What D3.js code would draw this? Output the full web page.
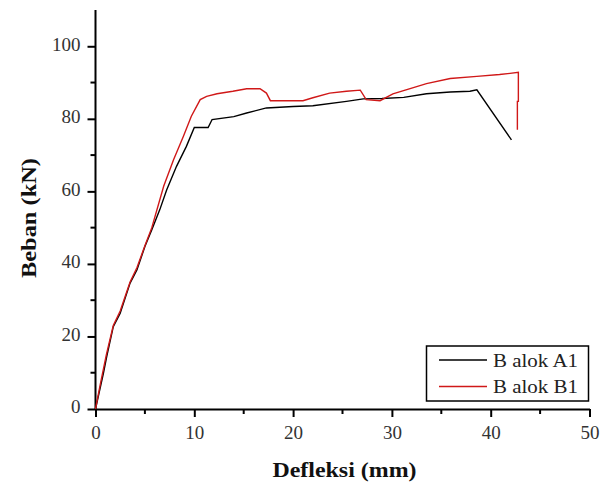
<!DOCTYPE html>
<html><head><meta charset="utf-8">
<script src="https://cdn.jsdelivr.net/npm/d3@7"></script>
<style>body{margin:0;background:#fff}svg{display:block}</style>
</head><body>
<svg id="c" width="603" height="483"></svg>
<script>
const xTicks = [0, 10, 20, 30, 40, 50];
const yTicks = [0, 20, 40, 60, 80, 100];
const seriesNames = ["B alok A1", "B alok B1"];
const seriesColors = ["#000000", "#d01818"];
const xA = [0, 0.8, 1.13, 1.8, 2.5, 3.5, 4.2, 5.0, 5.7, 6.5, 7.2, 8.2, 9.2, 10.0, 11.4, 11.8, 14.0, 15.3, 17.3, 20.0, 22.0, 25.4, 27.1, 29.0, 31.2, 33.5, 35.9, 37.9, 38.6, 42.1];
const yA = [0, 9.8, 14.4, 22.7, 26.4, 34.7, 38.4, 44.8, 49.4, 54.9, 60.4, 66.9, 72.4, 77.6, 77.6, 79.8, 80.6, 81.6, 83.0, 83.4, 83.6, 84.8, 85.5, 85.6, 85.9, 86.9, 87.4, 87.6, 88.0, 74.2];
const xB = [0, 0.5, 1.1, 1.8, 2.5, 3.5, 4.2, 5.0, 5.7, 6.9, 7.9, 8.9, 9.7, 10.6, 11.25, 12.3, 13.9, 15.3, 16.65, 17.3, 17.7, 21.0, 22.0, 23.7, 25.4, 26.8, 27.4, 28.8, 30.1, 33.5, 35.9, 38.6, 40.9, 42.8, 42.8, 42.7, 42.7];
const yB = [0, 7, 15, 23, 27, 35, 39, 45, 50, 61.4, 68.7, 75.2, 80.7, 85.3, 86.2, 86.9, 87.6, 88.3, 88.3, 87.1, 85.0, 85.0, 85.8, 87.1, 87.6, 87.9, 85.3, 85.0, 86.9, 89.7, 91.1, 91.7, 92.2, 92.8, 84.8, 84.8, 77.0];
const xLabel = "Defleksi (mm)";
const yLabel = "Beban (kN)";

const svg = d3.select("#c");
const L = 95.5, R = 589.5, T = 10, B = 409;
const x = d3.scaleLinear().domain([0, 50]).range([L, R]);
const y = d3.scaleLinear().domain([0, 110]).range([B, T]);
const font = "'Liberation Serif','Times New Roman',serif";

// axes
const xAxis = d3.axisBottom(x).tickValues(xTicks).tickSize(8).tickPadding(9).tickSizeOuter(0);
const yAxis = d3.axisLeft(y).tickValues(yTicks).tickSize(8).tickPadding(7).tickSizeOuter(0);
const gx = svg.append("g").attr("transform", `translate(0,${B})`).call(xAxis);
const gy = svg.append("g").attr("transform", `translate(${L},0)`).call(yAxis);
[gx, gy].forEach(g => {
  g.select(".domain").attr("stroke", "#000").attr("stroke-width", 2);
  g.selectAll(".tick line").attr("stroke", "#000").attr("stroke-width", 2);
  g.selectAll(".tick text").attr("fill", "#333").style("font-family", font).style("font-size", "19px");
});
gy.selectAll(".tick text").attr("dy", "0.2em");
gy.select(".domain").attr("d", `M0,${B}V${T}`);
// minor ticks
const xMinor = d3.range(5, 50, 10);
const yMinor = d3.range(10, 110, 20);
svg.append("g").selectAll("line").data(xMinor).join("line")
  .attr("x1", d => x(d)).attr("x2", d => x(d)).attr("y1", B).attr("y2", B + 5)
  .attr("stroke", "#000").attr("stroke-width", 2);
svg.append("g").selectAll("line").data(yMinor).join("line")
  .attr("y1", d => y(d)).attr("y2", d => y(d)).attr("x1", L).attr("x2", L - 5)
  .attr("stroke", "#000").attr("stroke-width", 2);

// lines
const line = d3.line().x(d => x(d[0])).y(d => y(d[1]));
const dataA = xA.map((v, i) => [v, yA[i]]);
const dataB = xB.map((v, i) => [v, yB[i]]);
svg.append("path").datum(dataA).attr("d", line).attr("fill", "none").attr("stroke", seriesColors[0]).attr("stroke-width", 1.4);
svg.append("path").datum(dataB).attr("d", line).attr("fill", "none").attr("stroke", seriesColors[1]).attr("stroke-width", 1.4);

// axis titles
svg.append("text").attr("x", 344.5).attr("y", 477).attr("text-anchor", "middle")
  .attr("textLength", 144).attr("lengthAdjust", "spacingAndGlyphs")
  .style("font-family", font).style("font-size", "21px").style("font-weight", "bold").attr("fill", "#111").text(xLabel);
svg.append("text").attr("transform", "translate(36,218) rotate(-90)").attr("text-anchor", "middle")
  .attr("textLength", 120).attr("lengthAdjust", "spacingAndGlyphs")
  .style("font-family", font).style("font-size", "21px").style("font-weight", "bold").attr("fill", "#111").text(yLabel);

// legend
const lg = svg.append("g");
lg.append("rect").attr("x", 426.5).attr("y", 346).attr("width", 162).attr("height", 55)
  .attr("fill", "#fff").attr("stroke", "#000").attr("stroke-width", 1.5);
seriesNames.forEach((n, i) => {
  const yy = 360 + i * 26.5;
  lg.append("line").attr("x1", 439).attr("x2", 487).attr("y1", yy).attr("y2", yy)
    .attr("stroke", seriesColors[i]).attr("stroke-width", 1.4);
  lg.append("text").attr("x", 493).attr("y", yy + 6.5)
    .attr("textLength", 85).attr("lengthAdjust", "spacingAndGlyphs")
    .style("font-family", font).style("font-size", "19px")
    .attr("fill", "#222").text(n);
});
</script>
</body></html>
